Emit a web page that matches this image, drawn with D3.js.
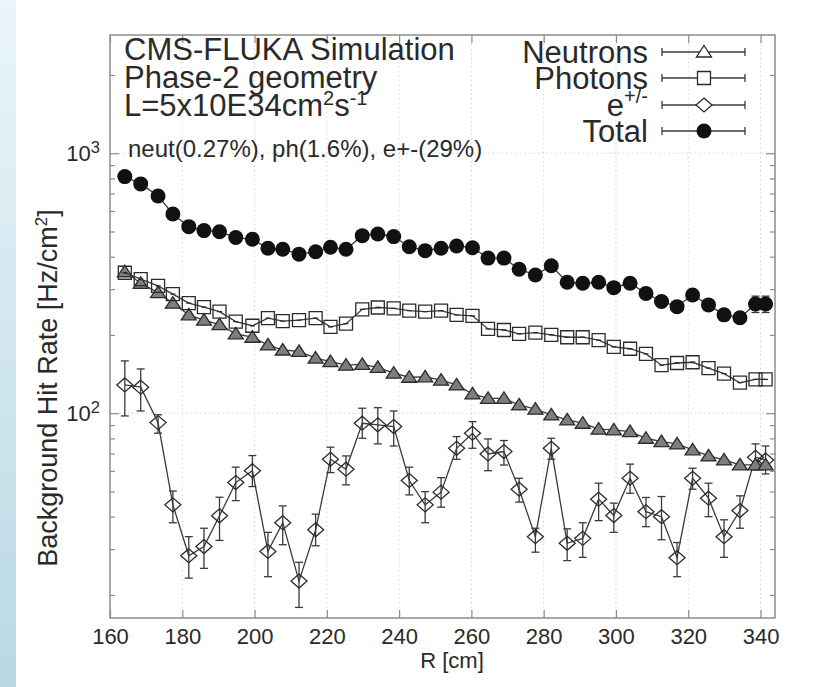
<!DOCTYPE html>
<html>
<head>
<meta charset="utf-8">
<script src="https://cdn.jsdelivr.net/npm/d3@7"></script>
<style>
  body {margin:0; background:#fff;}
  svg text {font-family:"Liberation Sans", Arial, sans-serif; fill:#2a2a2a;}
</style>
</head>
<body>
<svg id="chart" width="823" height="687"></svg>
<script>
// radius of each bin centre [cm]
var R=[164.1,168.5,173.3,177.4,181.8,186.0,190.3,194.8,199.4,203.7,207.8,212.3,216.9,221.0,
  225.3,229.8,234.1,238.5,242.8,247.2,251.6,255.9,260.3,264.6,269.0,273.2,277.7,282.1,286.5,
  290.8,295.2,299.4,303.9,308.3,312.6,316.9,321.2,325.6,329.9,334.3,338.6,341.4];

var total=[813,762,685,584,522,504,499,474,467,431,427,409,418,435,427,482,489,478,437,422,431,
  440,433,395,395,358,340,369,319,316,319,304,316,289,269,257,285,261,239,233,263,263];
var totalErr=[14,13,12,11,10,10,10,10,10,9,9,9,9,9,9,10,10,10,9,9,9,9,9,9,9,9,9,9,8,8,8,8,8,8,
  8,8,8,8,8,8,19,19];

var photons=[347,328,309,287,265,256,246,225,217,232,226,228,232,215,221,251,255,253,248,246,248,
  239,237,211,209,202,204,200,196,196,191,180,177,169,153,156,157,149,142,131,135,135];

var neutrons=[350,316,291,265,239,228,219,202,196,183,175,173,163,158,153,154,150,142.5,137.5,138,
  134,128.5,118.6,114,114,107.6,103.6,98.5,94.2,91.5,86.8,86.2,85,80.1,77.8,76.2,72.3,68.5,66.1,
  63.3,63.3,63.3];

var electrons=[128.5,125.9,92,44.4,28.3,30.7,40.3,54.1,60.1,29.4,37.9,22.6,35.6,66.5,60.9,91.5,
  90.2,88.8,55.1,44.4,49.7,73.3,83.8,69.7,71.2,51,33.5,73.3,31.6,33,46.7,40.4,56.2,41.8,40,27.8,
  56.2,47.1,33.5,42.2,67.7,66.1];
var electronsHi=[158.9,148,98.6,50.2,33.5,36.1,47.5,62,68.7,34.8,44,26.7,40.9,74,68.5,104.5,105,
  102,62,49.9,56.5,81.3,92.8,79.6,78.5,56.2,36.1,80.1,35.9,37.9,53.8,45.1,63.7,47.4,47.8,31.8,
  61.4,53.8,38.9,48.1,76.2,74.8];
var electronsLo=[97.6,102,83.8,37.9,23.2,25.3,32.4,46.1,52.2,23.5,31.2,17.9,30.9,59.1,53,80.1,
  76.2,74.8,48.5,37.9,43.5,66.5,73.3,60.1,63.2,45.5,29.2,66.5,27.1,27.9,38.6,34.8,49.2,36.6,
  32.6,23.5,51,40,27.9,36.1,60.5,58.4];

var xTicks=[160,180,200,220,240,260,280,300,320,340];
var yMajor=[100,1000];
var yMinor=[20,30,40,50,60,70,80,90,200,300,400,500,600,700,800,900,2000];
var legendNames=['Neutrons','Photons','e','Total'];

var W=823, H=687;
var plotL=110, plotR=775, plotT=35, plotB=618;
var ink='#2a2a2a', lineCol='#3a3a3a', frameCol='#8c8c8c';

var x=d3.scaleLinear().domain([160,344]).range([plotL,plotR]);
var y=d3.scaleLog().domain([16.3,2850]).range([plotB,plotT]);

var svg=d3.select('#chart');

// slide background strip on the left
var grad=svg.append('defs').append('linearGradient').attr('id','strip')
  .attr('x1',0).attr('y1',0).attr('x2',0).attr('y2',1);
grad.append('stop').attr('offset','0%').attr('stop-color','#eaf5f9');
grad.append('stop').attr('offset','100%').attr('stop-color','#b9d8e4');
svg.append('rect').attr('x',0).attr('y',0).attr('width',16).attr('height',H).attr('fill','url(#strip)');

// grid
var grid=svg.append('g');
grid.selectAll('line.gx').data(xTicks.slice(1)).enter().append('line')
  .attr('x1',function(d){return x(d);}).attr('x2',function(d){return x(d);})
  .attr('y1',plotT).attr('y2',plotB)
  .attr('stroke','#d2d2d2').attr('stroke-width',1).attr('stroke-dasharray','1.5,3');
grid.selectAll('line.gy').data(yMajor).enter().append('line')
  .attr('x1',plotL).attr('x2',plotR)
  .attr('y1',function(d){return y(d);}).attr('y2',function(d){return y(d);})
  .attr('stroke','#d2d2d2').attr('stroke-width',1).attr('stroke-dasharray','1.5,3');

// axes
function styleAxis(g) {
  g.select('.domain').remove();
  g.selectAll('line').attr('stroke',frameCol).attr('stroke-width',1.2);
  g.selectAll('text').attr('font-size',22).attr('fill',ink).attr('font-family','Liberation Sans, Arial, sans-serif');
}
svg.append('g').attr('transform','translate(0,'+plotB+')')
  .call(d3.axisBottom(x).tickValues(xTicks).tickSizeInner(-8).tickSizeOuter(0).tickPadding(10))
  .call(styleAxis);
svg.append('g').attr('transform','translate(0,'+plotT+')')
  .call(d3.axisTop(x).tickValues(xTicks).tickSizeInner(-8).tickSizeOuter(0).tickFormat(''))
  .call(styleAxis);
svg.append('g').attr('transform','translate('+plotL+',0)')
  .call(d3.axisLeft(y).tickValues(yMinor).tickSizeInner(-5).tickSizeOuter(0).tickFormat(''))
  .call(styleAxis);
svg.append('g').attr('transform','translate('+plotR+',0)')
  .call(d3.axisRight(y).tickValues(yMinor).tickSizeInner(-5).tickSizeOuter(0).tickFormat(''))
  .call(styleAxis);
svg.append('g').attr('transform','translate('+plotR+',0)')
  .call(d3.axisRight(y).tickValues(yMajor).tickSizeInner(-9).tickSizeOuter(0).tickFormat(''))
  .call(styleAxis);
var yl=svg.append('g').attr('transform','translate('+plotL+',0)')
  .call(d3.axisLeft(y).tickValues(yMajor).tickSizeInner(-9).tickSizeOuter(0).tickPadding(10).tickFormat(''))
  .call(styleAxis);
yl.selectAll('.tick text').each(function(d) {
  var t=d3.select(this);
  t.text('10');
  t.append('tspan').attr('dy','-0.45em').attr('font-size','0.75em').text(Math.round(Math.log10(d)));
});

svg.append('rect').attr('x',plotL).attr('y',plotT).attr('width',plotR-plotL).attr('height',plotB-plotT)
  .attr('fill','none').attr('stroke',frameCol).attr('stroke-width',1.5);

// markers
var triPath='M0,-6.5L7.5,5L-7.5,5Z';
var sqPath='M-6.5,-6.5H6.5V6.5H-6.5Z';
var sqBarPath='M-6.5,-6.5H6.5V6.5H-6.5ZM-2.5,0H2.5';
var diaPath='M0,-7L8,0L0,7L-8,0Z';

function drawLine(vals) {
  var line=d3.line().x(function(d,i){return x(R[i]);}).y(function(d){return y(d);});
  svg.append('path').attr('d',line(vals)).attr('fill','none').attr('stroke',lineCol).attr('stroke-width',1.3);
}
function drawBars(lo,hi,cap) {
  var g=svg.append('g').attr('stroke',lineCol).attr('stroke-width',1.3);
  R.forEach(function(r,i) {
    var xx=x(r);
    g.append('line').attr('x1',xx).attr('x2',xx).attr('y1',y(lo[i])).attr('y2',y(hi[i]));
    g.append('line').attr('x1',xx-cap).attr('x2',xx+cap).attr('y1',y(lo[i])).attr('y2',y(lo[i]));
    g.append('line').attr('x1',xx-cap).attr('x2',xx+cap).attr('y1',y(hi[i])).attr('y2',y(hi[i]));
  });
}
function drawMarks(vals,path,fill) {
  svg.append('g').selectAll('path').data(vals).enter().append('path')
    .attr('d',path)
    .attr('transform',function(d,i){return 'translate('+x(R[i])+','+y(d)+')';})
    .attr('fill',fill).attr('stroke','#2b2b2b').attr('stroke-width',1.3);
}

// electrons
drawLine(electrons);
drawBars(electronsLo,electronsHi,4);
drawMarks(electrons,diaPath,'none');
// neutrons
drawLine(neutrons);
drawMarks(neutrons,triPath,'#7e7e7e');
// photons
drawLine(photons);
drawMarks(photons,sqBarPath,'none');
// total
drawLine(total);
drawBars(total.map(function(v,i){return v-totalErr[i];}),total.map(function(v,i){return v+totalErr[i];}),4);
svg.append('g').selectAll('circle').data(total).enter().append('circle')
  .attr('cx',function(d,i){return x(R[i]);}).attr('cy',function(d){return y(d);})
  .attr('r',7.5).attr('fill','#111');

// annotation
function txt(xp,yp,size,anchor) {
  return svg.append('text').attr('x',xp).attr('y',yp).attr('font-size',size).attr('text-anchor',anchor||'start');
}
txt(124,60,31).text('CMS-FLUKA Simulation');
txt(124,88,31).text('Phase-2 geometry');
var lum=txt(124,116,31).text('L=5x10E34cm');
lum.append('tspan').attr('dy',-11).attr('font-size',20).text('2');
lum.append('tspan').attr('dy',11).text('s');
lum.append('tspan').attr('dy',-11).attr('font-size',20).text('-1');
txt(128,157,24).text('neut(0.27%), ph(1.6%), e+-(29%)');

// legend
var legY=[52,78,105,131];
var legMarks=[triPath,sqPath,diaPath,null];
legendNames.forEach(function(name,i) {
  var t=txt(648,legY[i]+11,31,'end').text(name);
  if (name==='e') t.append('tspan').attr('dy',-13).attr('font-size',20).text('+/-');
  var g=svg.append('g').attr('stroke',lineCol).attr('stroke-width',1.3);
  g.append('line').attr('x1',662).attr('x2',745).attr('y1',legY[i]).attr('y2',legY[i]);
  g.append('line').attr('x1',662).attr('x2',662).attr('y1',legY[i]-4).attr('y2',legY[i]+4);
  g.append('line').attr('x1',745).attr('x2',745).attr('y1',legY[i]-4).attr('y2',legY[i]+4);
  if (legMarks[i]) {
    svg.append('path').attr('d',legMarks[i]).attr('transform','translate(704,'+legY[i]+')')
      .attr('fill','#fff').attr('stroke','#2b2b2b').attr('stroke-width',1.3);
  } else {
    svg.append('circle').attr('cx',704).attr('cy',legY[i]).attr('r',7.5).attr('fill','#111');
  }
});

// axis titles
txt(452,668,22,'middle').text('R [cm]');
var yt=svg.append('text').attr('transform','translate(57,388) rotate(-90)')
  .attr('text-anchor','middle').attr('font-size',27).text('Background Hit Rate [Hz/cm');
yt.append('tspan').attr('dy',-10).attr('font-size',17).text('2');
yt.append('tspan').attr('dy',10).text(']');
</script>
</body>
</html>
